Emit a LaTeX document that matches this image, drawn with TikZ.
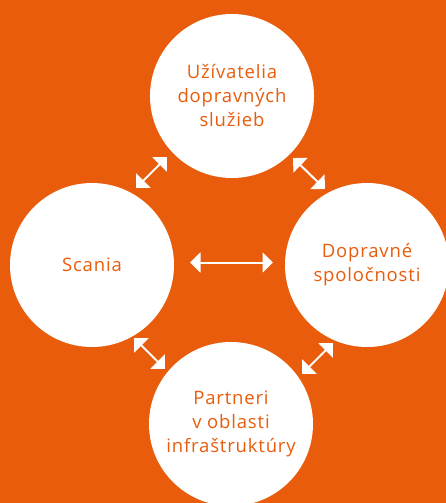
\documentclass[tikz,border=0pt]{standalone}
\usepackage{fontspec}
\setmainfont[LetterSpace=4.5]{Open Sans}
\usetikzlibrary{arrows.meta}
\definecolor{bg}{RGB}{233,92,12}
\begin{document}
\begin{tikzpicture}[x=1pt,y=-1pt,
  bubble/.style={circle,fill=white,minimum size=164pt,inner sep=0pt,text=bg,
    font=\fontsize{18.5}{24}\selectfont,align=center},
  link/.style={white,line width=2pt,
    {Triangle[length=10.5pt,width=20pt]}-{Triangle[length=10.5pt,width=20pt]}}]
\useasboundingbox (0,0) rectangle (446,503);
\fill[bg] (0,0) rectangle (446,503);
\begin{scope}
\clip (0,0) rectangle (446,503);
\node[bubble] (top) at (232,96) {Užívatelia\\dopravných\\služieb};
\node[bubble] (left) at (92,265) {Scania};
\node[bubble] (right) at (367,265) {Dopravné\\spoločnosti};
\node[bubble] (bottom) at (231,424) {Partneri\\v oblasti\\infraštruktúry};
\end{scope}
\coordinate (h1) at (190,262.5);
\coordinate (h2) at (273,262.5);
\coordinate (tl1) at (136,188);
\coordinate (tl2) at (167,157);
\coordinate (tr1) at (293,158);
\coordinate (tr2) at (325,189);
\coordinate (bl1) at (134,338);
\coordinate (bl2) at (165,369);
\coordinate (br1) at (302,374);
\coordinate (br2) at (333,343);
\draw[link] (h1) -- (h2);
\draw[link] (tl1) -- (tl2);
\draw[link] (tr1) -- (tr2);
\draw[link] (bl1) -- (bl2);
\draw[link] (br1) -- (br2);
\end{tikzpicture}
\end{document}
